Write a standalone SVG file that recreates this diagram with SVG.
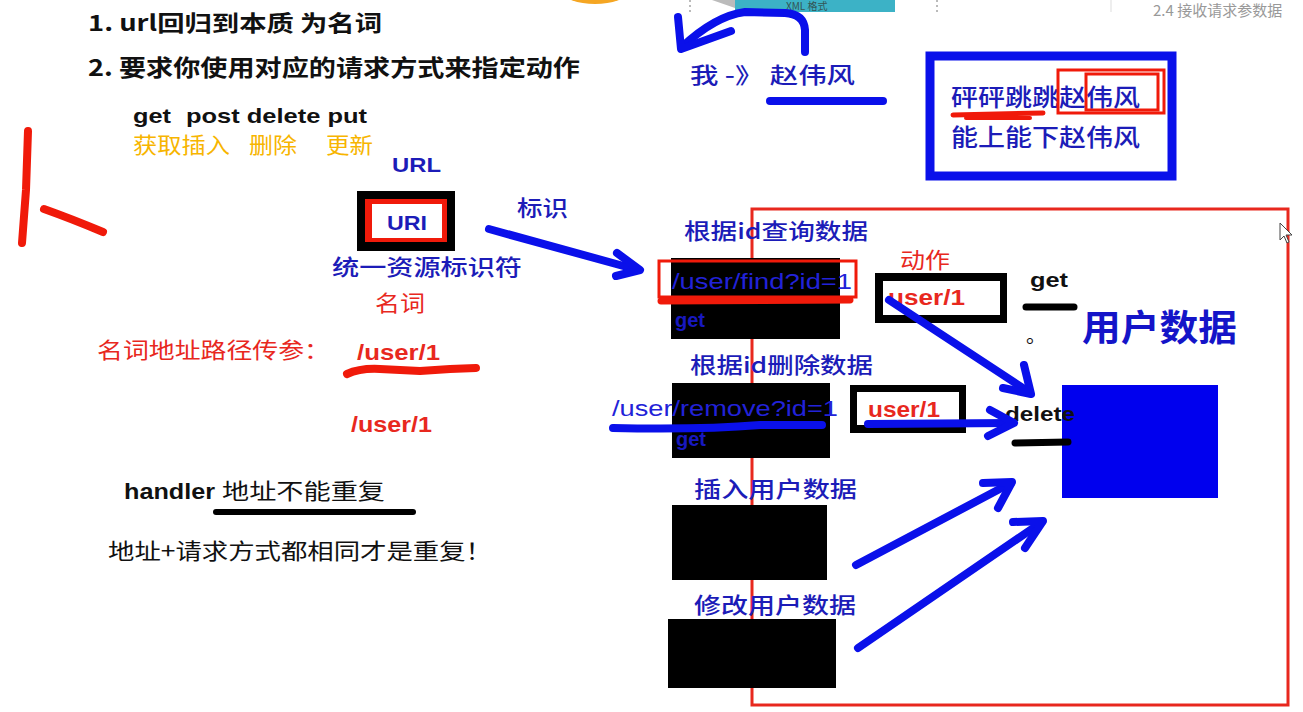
<svg xmlns="http://www.w3.org/2000/svg" width="1303" height="712" viewBox="0 0 1303 712">
<style>
.cn{font-family:"Noto Sans CJK SC","Liberation Sans",sans-serif}
.la{font-family:"Liberation Sans","Noto Sans CJK SC",sans-serif}
.blk{fill:#111}
.bl{fill:#1c1cb8;font-weight:500}
.rd{fill:#e8281e}
.or{fill:#f7b500}
.b{font-weight:bold}
.pen{fill:none;stroke:#0a10ea;stroke-width:8;stroke-linecap:round;stroke-linejoin:round}
.rpen{fill:none;stroke:#f01a0a;stroke-linecap:round;stroke-linejoin:round}
.kpen{fill:none;stroke:#000;stroke-linecap:round}
</style>
<rect width="1303" height="712" fill="#fff"/>
<!-- top screenshot remnants -->
<g id="top-remnants">
<ellipse cx="595" cy="-8" rx="32" ry="12" fill="#f5a623"/>
<line x1="690" y1="0" x2="690" y2="12" stroke="#777" stroke-dasharray="2,3"/>
<line x1="937" y1="0" x2="937" y2="12" stroke="#777" stroke-dasharray="2,3"/>
<line x1="1111" y1="0" x2="1111" y2="12" stroke="#ddd"/>
<path d="M712 0 L735 8 L735 0 Z" fill="#bbb"/>
<rect x="735" y="-2" width="160" height="14" fill="#3cb2c6"/>
<text x="786" y="10" class="cn" font-size="10" fill="#355">XML 格式</text>
<text x="1153" y="16" class="cn" font-size="15" fill="#999">2.4 接收请求参数据</text>
</g>
<!-- red L mark -->
<g id="red-mark">
<path class="rpen" stroke-width="8" d="M28 131 L26 190 L22 243"/>
<path class="rpen" stroke-width="8" d="M44 209 Q72 219 103 232"/>
</g>
<!-- left texts -->
<g id="title1"><text x="88" y="31" class="cn b blk" font-size="22" textLength="294" lengthAdjust="spacingAndGlyphs">1. url回归到本质 为名词</text></g>
<g id="title2"><text x="88" y="76" class="cn b blk" font-size="23" textLength="492" lengthAdjust="spacingAndGlyphs">2. 要求你使用对应的请求方式来指定动作</text></g>
<g id="methods">
<text x="133" y="123" class="la b blk" font-size="21" textLength="38" lengthAdjust="spacingAndGlyphs">get</text>
<text x="186" y="123" class="la b blk" font-size="21" textLength="181" lengthAdjust="spacingAndGlyphs">post delete put</text>
<text x="133" y="153" class="cn or" font-size="22" textLength="97" lengthAdjust="spacingAndGlyphs">获取插入</text>
<text x="249" y="153" class="cn or" font-size="22" textLength="48" lengthAdjust="spacingAndGlyphs">删除</text>
<text x="326" y="153" class="cn or" font-size="22" textLength="47" lengthAdjust="spacingAndGlyphs">更新</text>
</g>
<g id="url"><text x="392" y="172" class="la b bl" font-size="21" textLength="49" lengthAdjust="spacingAndGlyphs">URL</text></g>
<g id="uri">
<rect x="357" y="191" width="98" height="60" fill="#000"/>
<rect x="365" y="199" width="82" height="43" fill="#f01a0a"/>
<rect x="372" y="204" width="70" height="34" fill="#fff"/>
<text x="387" y="230" class="la b bl" font-size="21" textLength="40" lengthAdjust="spacingAndGlyphs">URI</text>
</g>
<g id="biaoshi"><text x="517" y="216" class="cn bl" font-size="22" textLength="51" lengthAdjust="spacingAndGlyphs">标识</text></g>
<g id="tongyi"><text x="332" y="275" class="cn bl" font-size="22" textLength="190" lengthAdjust="spacingAndGlyphs">统一资源标识符</text></g>
<g id="mingci"><text x="375" y="311" class="cn rd" font-size="22" textLength="50" lengthAdjust="spacingAndGlyphs">名词</text></g>
<g id="path-param">
<text x="97" y="358" class="cn rd" font-size="22" textLength="233" lengthAdjust="spacingAndGlyphs">名词地址路径传参：</text>
<text x="357" y="360" class="la b rd" font-size="22" textLength="83" lengthAdjust="spacingAndGlyphs">/user/1</text>
<path class="rpen" stroke-width="8" d="M347 374 Q360 368 380 369 L420 371 L450 369 L476 368"/>
</g>
<g id="user1b"><text x="351" y="432" class="la b rd" font-size="22" textLength="81" lengthAdjust="spacingAndGlyphs">/user/1</text></g>
<g id="handler">
<text x="124" y="499" class="la b blk" font-size="22" textLength="91" lengthAdjust="spacingAndGlyphs">handler</text>
<text x="222" y="499" class="cn blk" font-size="22" textLength="163" lengthAdjust="spacingAndGlyphs">地址不能重复</text>
<line class="kpen" stroke-width="6" x1="216" y1="512" x2="413" y2="512"/>
</g>
<g id="repeat"><text x="108" y="559" class="cn blk" font-size="22" textLength="384" lengthAdjust="spacingAndGlyphs">地址+请求方式都相同才是重复！</text></g>
<!-- top right -->
<g id="zhao">
<text x="690" y="83" class="cn bl" font-size="22" textLength="165" lengthAdjust="spacingAndGlyphs">我 -》 赵伟风</text>
<line x1="770" y1="101" x2="883" y2="101" stroke="#0a10ea" stroke-width="8" stroke-linecap="round"/>
</g>
<g id="bluebox">
<rect x="930" y="56" width="242" height="120" fill="#fff" stroke="#0a10ea" stroke-width="9"/>
<text x="951" y="106" class="cn bl" font-size="24" textLength="189" lengthAdjust="spacingAndGlyphs">砰砰跳跳赵伟风</text>
<text x="951" y="146" class="cn bl" font-size="24" textLength="189" lengthAdjust="spacingAndGlyphs">能上能下赵伟风</text>
<path class="rpen" stroke-width="5" d="M953 115 L1043 113"/>
<path class="rpen" stroke-width="4" d="M966 118 L1030 118"/>
<rect x="1058" y="70" width="106" height="43" fill="none" stroke="#f01a0a" stroke-width="3"/>
<rect x="1086" y="74" width="72" height="36" fill="none" stroke="#f01a0a" stroke-width="3"/>
</g>
<!-- big red frame -->
<g id="frame"><rect x="752" y="209" width="536" height="496" fill="none" stroke="#e8281e" stroke-width="3"/></g>
<g id="find">
<text x="684" y="239" class="cn bl" font-size="22" textLength="184" lengthAdjust="spacingAndGlyphs">根据id查询数据</text>
<rect x="671" y="258" width="169" height="81" fill="#000"/>
<rect x="659" y="261" width="197" height="36" fill="none" stroke="#f01a0a" stroke-width="3"/>
<line class="rpen" stroke-width="7" x1="661" y1="301" x2="850" y2="300"/>
<text x="672" y="289" class="la" fill="#2222d8" font-size="22" textLength="180" lengthAdjust="spacingAndGlyphs">/user/find?id=1</text>
<text x="675" y="327" class="la b" fill="#1818c0" font-size="20">get</text>
</g>
<g id="action1">
<text x="900" y="268" class="cn rd" font-size="22" textLength="50" lengthAdjust="spacingAndGlyphs">动作</text>
<rect x="875" y="273" width="132" height="50" fill="#000"/>
<rect x="883" y="281" width="117" height="34" fill="#fff"/>
<text x="888" y="305" class="la b rd" font-size="22" textLength="77" lengthAdjust="spacingAndGlyphs">user/1</text>
</g>
<g id="get-label">
<text x="1030" y="287" class="la b blk" font-size="20" textLength="38" lengthAdjust="spacingAndGlyphs">get</text>
<line class="kpen" stroke-width="7" x1="1026" y1="307" x2="1074" y2="307"/>
<text x="1026" y="343" class="cn blk" font-size="20">。</text>
</g>
<g id="userdata-label"><text x="1082" y="341" class="cn b" fill="#1414c8" font-size="36" textLength="155" lengthAdjust="spacingAndGlyphs">用户数据</text></g>
<g id="remove">
<text x="690" y="373" class="cn bl" font-size="22" textLength="183" lengthAdjust="spacingAndGlyphs">根据id删除数据</text>
<rect x="672" y="383" width="158" height="75" fill="#000"/>
<text x="676" y="446" class="la b" fill="#1818c0" font-size="20">get</text>
<text x="612" y="416" class="la" fill="#2222d8" font-size="22" textLength="226" lengthAdjust="spacingAndGlyphs">/user/remove?id=1</text>
</g>
<g id="action2">
<rect x="850" y="385" width="116" height="48" fill="#000"/>
<rect x="857" y="392" width="102" height="33" fill="#fff"/>
<text x="868" y="417" class="la b rd" font-size="22" textLength="72" lengthAdjust="spacingAndGlyphs">user/1</text>
</g>
<g id="userdata">
<rect x="1062" y="385" width="156" height="113" fill="#0000ee"/>
</g>
<g id="delete-label">
<text x="1005" y="421" class="la b blk" font-size="20" textLength="70" lengthAdjust="spacingAndGlyphs">delete</text>
<line class="kpen" stroke-width="7" x1="1015" y1="443" x2="1068" y2="442"/>
</g>
<g id="insert">
<text x="694" y="497" class="cn bl" font-size="22" textLength="163" lengthAdjust="spacingAndGlyphs">插入用户数据</text>
<rect x="672" y="505" width="155" height="75" fill="#000"/>
</g>
<g id="update">
<text x="694" y="613" class="cn bl" font-size="22" textLength="162" lengthAdjust="spacingAndGlyphs">修改用户数据</text>
<rect x="668" y="619" width="168" height="69" fill="#000"/>
</g>
<!-- connectors -->
<g id="connectors">
<path class="pen" d="M805 52 L805 30 Q804 14 785 13 L745 12 Q715 16 682 47"/>
<path class="pen" d="M678 17 L681 49 L731 31"/>
<path class="pen" d="M489 229 L638 270"/>
<path class="pen" d="M617 253 L640 270 L616 276"/>
<path class="pen" d="M889 300 L1029 392"/>
<path class="pen" d="M1024 365 L1031 394 L1003 388"/>
<path class="pen" stroke-width="6" d="M613 428 Q700 430 760 425 L822 425"/>
<path class="pen" stroke-width="6" d="M868 424 L1012 423"/>
<path class="pen" stroke-width="6" d="M990 410 L1014 423 L988 436"/>
<path class="pen" d="M856 565 L1011 483"/>
<path class="pen" d="M983 483 L1012 482 L998 508"/>
<path class="pen" d="M858 648 L1042 522"/>
<path class="pen" d="M1013 522 L1043 521 L1025 548"/>
</g>
<g id="cursor"><path d="M1280 223 L1280 240 L1284 236 L1287 243 L1289 242 L1286 235 L1292 235 Z" fill="#fff" stroke="#444" stroke-width="1"/></g>
</svg>
